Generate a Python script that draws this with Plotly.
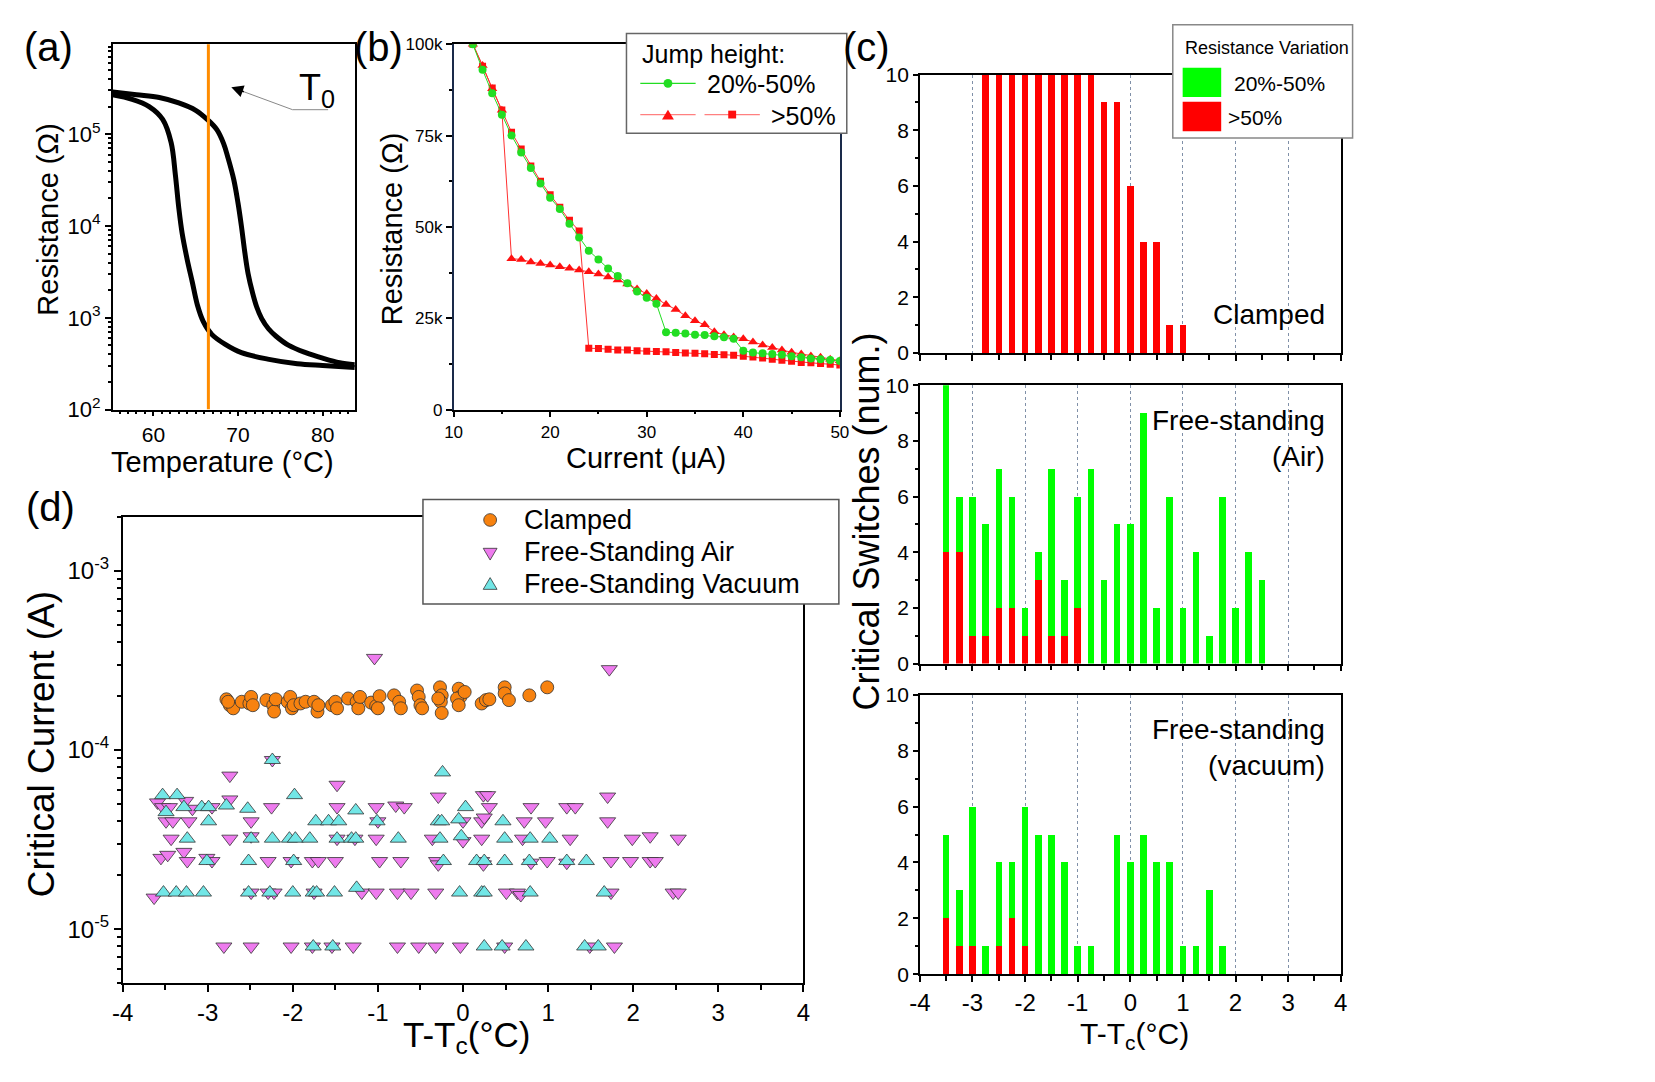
import plotly.graph_objects as go

W, H = 1655, 1082
ARIAL = "Liberation Sans, Arial, Helvetica, sans-serif"


def px(x):
    return x / W


def py(y):
    return 1 - y / H


# ---------------- (a) R(T) hysteresis ----------------
temp_heating = [55.2, 58.0, 60.7, 63.0, 65.0, 66.5, 67.5, 68.3, 68.8, 69.5, 70.0, 70.4,
                70.8, 71.2, 71.7, 72.2, 72.8, 73.6, 74.5, 76.0, 78.0, 80.0, 82.0, 83.8]
res_heating = [2.88e5, 2.69e5, 2.51e5, 2.19e5, 1.82e5, 1.41e5, 1.12e5, 7.9e4, 5.6e4, 3.2e4,
               1.78e4, 1.0e4, 5.2e3, 3.0e3, 1.9e3, 1.32e3, 980, 760, 630, 500, 417, 363, 324, 309]
temp_cooling = [55.2, 57.5, 59.5, 61.1, 62.1, 62.6, 63.0, 63.4, 64.0, 64.6, 65.2, 65.9,
                66.9, 68.5, 70.4, 73.5, 77.0, 80.0, 83.8]
res_cooling = [2.69e5, 2.4e5, 2.0e5, 1.45e5, 8.1e4, 3.6e4, 1.58e4, 8.3e3, 4.3e3, 2.45e3,
               1.38e3, 910, 660, 513, 417, 355, 316, 302, 288]
T0 = 66.5
a_xticks = [60, 70, 80]
a_yticks = [1e2, 1e3, 1e4, 1e5]
a_yticktext = ["10<sup>2</sup>", "10<sup>3</sup>", "10<sup>4</sup>", "10<sup>5</sup>"]

# ---------------- (b) R(I) jumps ----------------
current_uA = [12, 13, 14, 15, 16, 17, 18, 19, 20, 21, 22, 23, 24, 25, 26, 27, 28, 29, 30,
              31, 32, 33, 34, 35, 36, 37, 38, 39, 40, 41, 42, 43, 44, 45, 46, 47, 48, 49, 50]
res_20_50_k = [100, 93.0, 86.6, 80.7, 75.0, 70.4, 66.1, 61.9, 58.0, 54.9, 50.9, 47.1, 43.5,
               41.1, 38.6, 36.6, 34.6, 32.3, 30.6, 29.0, 21.2, 21.0, 20.8, 20.5, 20.4, 20.1,
               19.8, 19.4, 16.1, 15.6, 15.4, 15.2, 15.0, 14.6, 14.3, 14.0, 13.8, 13.6, 13.3]
res_gt50_tri_k = [100, 94.2, 87.8, 81.9, 41.3, 41.1, 40.4, 40.0, 39.6, 39.1, 38.7, 38.2, 37.7,
                  37.1, 36.3, 35.5, 34.4, 33.0, 31.8, 30.4, 28.8, 27.4, 25.7, 24.3, 23.2, 21.3,
                  20.5, 19.9, 19.4, 18.5, 17.7, 17.0, 16.3, 15.7, 15.2, 14.7, 14.3, 13.8, 13.4]
res_gt50_sq_k = [100, 94.0, 88.0, 82.0, 75.9, 71.3, 66.7, 62.5, 58.8, 55.4, 51.8, 48.9, 16.8,
                 16.7, 16.5, 16.3, 16.3, 16.1, 16.0, 15.9, 15.8, 15.6, 15.5, 15.4, 15.3, 15.1,
                 15.0, 14.9, 14.6, 14.4, 14.1, 13.8, 13.5, 13.2, 12.9, 12.8, 12.6, 12.4, 12.2]
b_xticks = [10, 20, 30, 40, 50]
b_yticks = [0, 25000, 50000, 75000, 100000]
b_yticktext = ["0", "25k", "50k", "75k", "100k"]

# ---------------- (c) histograms ----------------
clamped_dT = [-2.75, -2.5, -2.25, -2.0, -1.75, -1.5, -1.25, -1.0, -0.75, -0.5, -0.25, 0.0,
              0.25, 0.5, 0.75, 1.0]
clamped_red = [10, 10, 10, 10, 10, 10, 10, 10, 10, 9, 9, 6, 4, 4, 1, 1]
clamped_green = [0, 0, 0, 0, 0, 0, 0, 0, 0, 0, 0, 0, 0, 0, 0, 0]

air_dT = [-3.5, -3.25, -3.0, -2.75, -2.5, -2.25, -2.0, -1.75, -1.5, -1.25, -1.0, -0.75, -0.5,
          -0.25, 0.0, 0.25, 0.5, 0.75, 1.0, 1.25, 1.5, 1.75, 2.0, 2.25, 2.5]
air_red = [4, 4, 1, 1, 2, 2, 1, 3, 1, 1, 2, 0, 0, 0, 0, 0, 0, 0, 0, 0, 0, 0, 0, 0, 0]
air_green = [6, 2, 5, 4, 5, 4, 1, 1, 6, 2, 4, 7, 3, 5, 5, 9, 2, 6, 2, 4, 1, 6, 2, 4, 3]

vac_dT = [-3.5, -3.25, -3.0, -2.75, -2.5, -2.25, -2.0, -1.75, -1.5, -1.25, -1.0, -0.75, -0.5,
          -0.25, 0.0, 0.25, 0.5, 0.75, 1.0, 1.25, 1.5, 1.75]
vac_red = [2, 1, 1, 0, 1, 2, 1, 0, 0, 0, 0, 0, 0, 0, 0, 0, 0, 0, 0, 0, 0, 0]
vac_green = [3, 2, 5, 1, 3, 2, 5, 5, 5, 4, 1, 1, 0, 5, 4, 5, 4, 4, 1, 1, 3, 1]

dT_ticks = [-4, -3, -2, -1, 0, 1, 2, 3, 4]
dT_ticktext = ["-4", "-3", "-2", "-1", "0", "1", "2", "3", "4"]
c_yticks = [0, 2, 4, 6, 8, 10]

# ---------------- (d) critical current ----------------
clamped_x = [-2.78, -2.74, -2.70, -2.76, -2.60, -2.51, -2.49, -2.47, -2.31, -2.23, -2.22, -2.20,
             -2.06, -2.03, -2.01, -1.99, -1.91, -1.85, -1.75, -1.71, -1.70, -1.54, -1.50, -1.48,
             -1.35, -1.25, -1.23, -1.21, -1.08, -1.02, -0.98, -1.00, -0.81, -0.75, -0.73,
             -0.54, -0.52, -0.50, -0.48, -0.27, -0.25, -0.26, -0.25, -0.29, -0.05, -0.03,
             -0.07, -0.05, 0.02, 0.22, 0.27, 0.31, 0.49, 0.49, 0.54, 0.78, 0.99]
clamped_y = [1.92e-4, 1.78e-4, 1.71e-4, 1.86e-4, 1.86e-4, 1.82e-4, 1.98e-4, 1.78e-4, 1.90e-4,
             1.78e-4, 1.64e-4, 1.92e-4, 1.86e-4, 1.98e-4, 1.71e-4, 1.78e-4, 1.82e-4, 1.86e-4,
             1.86e-4, 1.64e-4, 1.78e-4, 1.78e-4, 1.86e-4, 1.71e-4, 1.94e-4, 1.86e-4, 1.71e-4,
             1.98e-4, 1.84e-4, 1.76e-4, 2.00e-4, 1.71e-4, 2.02e-4, 1.86e-4, 1.71e-4, 2.15e-4,
             1.98e-4, 1.78e-4, 1.71e-4, 2.24e-4, 2.02e-4, 1.86e-4, 1.61e-4, 1.94e-4, 2.20e-4,
             1.98e-4, 1.94e-4, 1.78e-4, 2.11e-4, 1.82e-4, 1.90e-4, 1.92e-4, 2.24e-4, 2.07e-4,
             1.90e-4, 2.02e-4, 2.24e-4]

air_x = [-1.04, 1.72, -2.24, -2.74, -1.48,
         -3.59, -3.53, -3.45, -3.26, -3.18, -2.95, -2.74, -2.25, -1.48, -1.02, -0.79, -0.69,
         -0.29, 0.24, 0.29, 1.70, 0.31, 0.80, 1.22, 1.32,
         -3.49, -3.41, -3.22, -2.49, -1.00, 0.00, 0.22, 0.25, 0.72, 0.97, 1.70,
         -3.43, -2.74, -2.49, -1.48, -1.27, -1.02, -0.36, 0.00, 0.22, 0.70, 1.26, 1.99, 2.20, 2.53,
         -3.55, -3.47, -3.28, -3.24, -3.01, -2.95, -2.29, -2.02, -1.77, -1.70, -1.50, -0.98,
         -0.73, -0.31, -0.29, 0.22, 0.24, 0.80, 0.99, 1.22, 1.74, 1.97, 2.20, 2.26,
         -3.63, -2.49, -2.29, -2.22, -1.75, -1.19, -1.02, -0.77, -0.61, -0.32, 0.51, 0.64,
         0.68, 1.74, 2.47, 2.53,
         -2.81, -2.49, -2.02, -1.77, -1.54, -1.29, -0.77, -0.52, -0.32, -0.03, 0.49, 1.49, 1.78]
air_y = [3.27e-4, 2.83e-4, 8.8e-5, 7.2e-5, 6.4e-5,
         5.1e-5, 4.8e-5, 4.8e-5, 5.2e-5, 4.7e-5, 4.8e-5, 5.3e-5, 4.8e-5, 4.8e-5, 4.8e-5, 4.9e-5, 4.8e-5,
         5.5e-5, 5.6e-5, 5.6e-5, 5.5e-5, 4.8e-5, 4.8e-5, 4.8e-5, 4.8e-5,
         4.0e-5, 4.0e-5, 4.0e-5, 4.0e-5, 4.0e-5, 4.0e-5, 4.0e-5, 4.2e-5, 4.0e-5, 4.0e-5, 4.0e-5,
         3.2e-5, 3.2e-5, 3.3e-5, 3.2e-5, 3.2e-5, 3.2e-5, 3.2e-5, 3.1e-5, 3.2e-5, 3.2e-5, 3.2e-5,
         3.2e-5, 3.3e-5, 3.2e-5,
         2.5e-5, 2.6e-5, 2.7e-5, 2.4e-5, 2.5e-5, 2.4e-5, 2.4e-5, 2.4e-5, 2.4e-5, 2.4e-5, 2.4e-5,
         2.4e-5, 2.4e-5, 2.4e-5, 2.3e-5, 2.4e-5, 2.3e-5, 2.35e-5, 2.4e-5, 2.35e-5, 2.4e-5,
         2.4e-5, 2.4e-5, 2.4e-5,
         1.5e-5, 1.6e-5, 1.6e-5, 1.6e-5, 1.6e-5, 1.6e-5, 1.6e-5, 1.6e-5, 1.6e-5, 1.6e-5, 1.6e-5,
         1.6e-5, 1.55e-5, 1.6e-5, 1.6e-5, 1.6e-5,
         8e-6, 8e-6, 8e-6, 8e-6, 8e-6, 8e-6, 8e-6, 8e-6, 8e-6, 8e-6, 8e-6, 8e-6, 8e-6]

vac_x = [-2.24, -0.24,
         -3.53, -3.36, -1.98,
         -3.28, -3.07, -2.99, -2.78, -2.53, -1.26, 0.03, -3.49,
         -2.99, -1.73, -1.58, -1.46, -1.01, -0.29, -0.25, -0.05, 0.47,
         -3.24, -2.49, -2.24, -2.04, -1.97, -1.80, -1.48, -1.31, -1.26, -0.76, -0.27, -0.02,
         0.49, 0.79, 1.02,
         -3.01, -2.52, -1.99, -0.23, 0.16, 0.25, 0.49, 0.78, 1.22, 1.45,
         -3.52, -3.37, -3.25, -3.05, -2.52, -2.27, -2.00, -1.76, -1.72, -1.51, -1.25, -0.04,
         0.22, 0.25, 0.79, 1.66,
         -1.76, -1.53, 0.25, 0.46, 0.74, 1.43, 1.59]
vac_y = [8.8e-5, 7.5e-5,
         5.6e-5, 5.6e-5, 5.6e-5,
         4.8e-5, 4.8e-5, 4.8e-5, 4.9e-5, 4.7e-5, 4.6e-5, 4.8e-5, 4.5e-5,
         4.0e-5, 4.0e-5, 4.0e-5, 4.0e-5, 4.0e-5, 4.0e-5, 4.0e-5, 4.1e-5, 4.0e-5,
         3.2e-5, 3.2e-5, 3.2e-5, 3.2e-5, 3.2e-5, 3.2e-5, 3.2e-5, 3.2e-5, 3.2e-5, 3.2e-5,
         3.2e-5, 3.3e-5, 3.2e-5, 3.2e-5, 3.2e-5,
         2.4e-5, 2.4e-5, 2.4e-5, 2.4e-5, 2.4e-5, 2.4e-5, 2.4e-5, 2.4e-5, 2.4e-5, 2.4e-5,
         1.6e-5, 1.6e-5, 1.6e-5, 1.6e-5, 1.6e-5, 1.6e-5, 1.6e-5, 1.6e-5, 1.6e-5, 1.6e-5,
         1.7e-5, 1.6e-5, 1.6e-5, 1.6e-5, 1.6e-5, 1.6e-5,
         8e-6, 8e-6, 8e-6, 8e-6, 8e-6, 8e-6, 8e-6]
d_yticks = [1e-5, 1e-4, 1e-3]
d_yticktext = ["10<sup>-5</sup>", "10<sup>-4</sup>", "10<sup>-3</sup>"]

# colours
GREEN_BAR = "#00FF00"
RED_BAR = "#FF0000"
GREEN_PT = "#22DD22"
RED_PT = "#FF1010"
ORANGE = "#F7820F"
PINK = "#EE7BEE"
CYAN = "#72E6E6"

fig = go.Figure()

# (a)
for tx, rx in [(temp_heating, res_heating), (temp_cooling, res_cooling)]:
    fig.add_trace(go.Scatter(x=tx, y=rx, mode="lines", line=dict(color="black", width=5, shape="spline"),
                             xaxis="x", yaxis="y", showlegend=False))
fig.add_trace(go.Scatter(x=[T0, T0], y=[1e2, 1e6], mode="lines", line=dict(color="#FF8C00", width=3),
                         xaxis="x", yaxis="y", showlegend=False))

# (b)
fig.add_trace(go.Scatter(x=current_uA, y=[v * 1000 for v in res_gt50_tri_k], mode="lines+markers",
                         line=dict(color="#FF3030", width=1), marker=dict(symbol="triangle-up", size=9, color=RED_PT),
                         xaxis="x2", yaxis="y2", showlegend=False))
fig.add_trace(go.Scatter(x=current_uA, y=[v * 1000 for v in res_gt50_sq_k], mode="lines+markers",
                         line=dict(color="#FF3030", width=1), marker=dict(symbol="square", size=7, color=RED_PT),
                         xaxis="x2", yaxis="y2", showlegend=False))
fig.add_trace(go.Scatter(x=current_uA, y=[v * 1000 for v in res_20_50_k], mode="lines+markers",
                         line=dict(color=GREEN_PT, width=1), marker=dict(symbol="circle", size=8, color=GREEN_PT),
                         xaxis="x2", yaxis="y2", showlegend=False))

# (c)
for xs, reds, greens, xa, ya in [(clamped_dT, clamped_red, clamped_green, "x3", "y3"),
                                 (air_dT, air_red, air_green, "x4", "y4"),
                                 (vac_dT, vac_red, vac_green, "x5", "y5")]:
    fig.add_trace(go.Bar(x=xs, y=reds, width=0.125, marker=dict(color=RED_BAR, line=dict(width=0)),
                         xaxis=xa, yaxis=ya, showlegend=False))
    fig.add_trace(go.Bar(x=xs, y=greens, width=0.125, marker=dict(color=GREEN_BAR, line=dict(width=0)),
                         xaxis=xa, yaxis=ya, showlegend=False))

# (d)
fig.add_trace(go.Scatter(x=clamped_x, y=clamped_y, mode="markers",
                         marker=dict(symbol="circle", size=13, color=ORANGE, line=dict(color="#333", width=0.8)),
                         xaxis="x6", yaxis="y6", showlegend=False))
fig.add_trace(go.Scatter(x=air_x, y=air_y, mode="markers",
                         marker=dict(symbol="triangle-down", size=14, color=PINK, line=dict(color="#333", width=0.8)),
                         xaxis="x6", yaxis="y6", showlegend=False))
fig.add_trace(go.Scatter(x=vac_x, y=vac_y, mode="markers",
                         marker=dict(symbol="triangle-up", size=14, color=CYAN, line=dict(color="#333", width=0.8)),
                         xaxis="x6", yaxis="y6", showlegend=False))


# ---------------- axes ----------------
def base_axis(size=22, **kw):
    d = dict(showline=True, linecolor="black", linewidth=1.5, mirror=True, ticks="outside",
             ticklen=7, tickwidth=1.5, tickcolor="black", showgrid=False, zeroline=False,
             tickfont=dict(family=ARIAL, size=size, color="black"), fixedrange=True)
    d.update(kw)
    return d


log_minor_a = [m * 10 ** e for e in range(2, 6) for m in range(2, 10)]
log_minor_d = [m * 10 ** e for e in range(-6, -2) for m in range(2, 10)]

layout_axes = dict(
    xaxis=base_axis(21, domain=[px(103), px(348)], range=[55.2, 83.8], anchor="y", tickmode="array",
                    tickvals=a_xticks, ticklen=5,
                    minor=dict(ticks="outside", dtick=1, ticklen=3, tickcolor="black")),
    yaxis=base_axis(22, domain=[py(407), py(33)], type="log", range=[2, 5.98], anchor="x",
                    tickmode="array", tickvals=a_yticks, ticktext=a_yticktext, ticklen=6,
                    minor=dict(ticks="outside", tickmode="array", tickvals=log_minor_a, ticklen=3, tickcolor="black")),
    xaxis2=base_axis(17, domain=[px(448), px(839)], range=[10, 50], anchor="y2", tickmode="array",
                     tickvals=b_xticks, ticklen=6,
                     minor=dict(ticks="outside", dtick=5, ticklen=3, tickcolor="black")),
    yaxis2=base_axis(17, domain=[py(407), py(33)], range=[0, 100000], anchor="x2", tickmode="array",
                     tickvals=b_yticks, ticktext=b_yticktext, linecolor="#1a2a4a", ticklen=6,
                     minor=dict(ticks="outside", dtick=12500, ticklen=3, tickcolor="black")),
)
c_rows = [("x3", "y3", 349, 64, False), ("x4", "y4", 667, 382, False), ("x5", "y5", 985, 699, True)]
for xa, ya, yb, yt, lab in c_rows:
    layout_axes["xaxis" + xa[1:]] = base_axis(
        24, domain=[px(920), px(1346)], range=[-4, 4], anchor=ya, tickmode="array",
        tickvals=dT_ticks, ticktext=dT_ticktext, showticklabels=lab, showgrid=True,
        gridcolor="#8090A8", griddash="dot", gridwidth=1, ticklen=6,
        minor=dict(ticks="outside", dtick=0.5, ticklen=5, tickcolor="black"))
    layout_axes["yaxis" + ya[1:]] = base_axis(
        21, domain=[py(yb), py(yt)], range=[0, 10], anchor=xa, tickmode="array", tickvals=c_yticks,
        ticklen=5, minor=dict(ticks="outside", dtick=1, ticklen=3, tickcolor="black"))
layout_axes["xaxis6"] = base_axis(24, domain=[px(113), px(802)], range=[-4, 4], anchor="y6", tickmode="array",
                                  tickvals=dT_ticks, ticktext=dT_ticktext, ticklen=7,
                                  minor=dict(ticks="outside", dtick=0.5, ticklen=5, tickcolor="black"))
layout_axes["yaxis6"] = base_axis(24, domain=[py(994), py(517)], type="log", range=[-5.301, -2.699], anchor="x6",
                                  tickmode="array", tickvals=d_yticks, ticktext=d_yticktext, ticklen=7,
                                  minor=dict(ticks="outside", tickmode="array", tickvals=log_minor_d, ticklen=4,
                                             tickcolor="black"))

# ---------------- legends / decorations (shapes) ----------------
shapes = []


def rect(x0, y0, x1, y1, fill="white", lc="#555", lw=1.5):
    shapes.append(dict(type="rect", xref="paper", yref="paper", x0=px(x0), x1=px(x1), y0=py(y1), y1=py(y0),
                       fillcolor=fill, line=dict(color=lc, width=lw), layer="above"))


def seg(x0, y0, x1, y1, color, width=1.2):
    shapes.append(dict(type="line", xref="paper", yref="paper", x0=px(x0), x1=px(x1), y0=py(y0), y1=py(y1),
                       line=dict(color=color, width=width), layer="above"))


def poly(pts, fill, lc="#333", lw=0.8):
    path = "M " + " L ".join(f"{px(x)},{py(y)}" for x, y in pts) + " Z"
    shapes.append(dict(type="path", xref="paper", yref="paper", path=path, fillcolor=fill,
                       line=dict(color=lc, width=lw), layer="above"))


def circ(cx, cy, d, fill, lc="#333", lw=0.8):
    shapes.append(dict(type="circle", xref="paper", yref="paper", x0=px(cx - d / 2), x1=px(cx + d / 2),
                       y0=py(cy + d / 2), y1=py(cy - d / 2), fillcolor=fill, line=dict(color=lc, width=lw),
                       layer="above"))


# (a) T0 pointer
shapes.append(dict(type="path", xref="paper", yref="paper",
                   path=f"M {px(321)},{py(100)} L {px(285)},{py(100)} L {px(234)},{py(81)}",
                   line=dict(color="#888", width=1), layer="above"))

# (b) legend
rect(623, 22, 846, 124, lc="#666")
seg(637, 73, 693, 73, GREEN_PT)
circ(665, 73, 9, GREEN_PT, lc=GREEN_PT, lw=0)
seg(637, 105, 693, 105, "#FF8080")
seg(702, 105, 758, 105, "#FF8080")
poly([(659, 110), (671, 110), (665, 100)], RED_PT, lc=RED_PT, lw=0)
rect(726, 101, 734, 109, fill=RED_PT, lc=RED_PT, lw=0)

# (c) legend
rect(1176, 13, 1358, 129, lc="#888")
rect(1186, 57, 1225, 87, fill=GREEN_BAR, lc=GREEN_BAR, lw=0)
rect(1186, 92, 1225, 122, fill=RED_BAR, lc=RED_BAR, lw=0)

# (d) legend
rect(417, 499, 838, 606, lc="#555")
circ(485, 520, 13, ORANGE)
poly([(478, 549), (492, 549), (485, 561)], PINK)
poly([(478, 591), (492, 591), (485, 579)], CYAN)

# ---------------- annotations ----------------
ann = []


def text(x, y, s, size, xanchor="center", yanchor="middle", angle=0, align="center"):
    ann.append(dict(x=px(x), y=py(y), xref="paper", yref="paper", text=s, showarrow=False,
                    font=dict(family=ARIAL, size=size, color="black"), xanchor=xanchor, yanchor=yanchor,
                    textangle=angle, align=align))


# panel letters
text(38, 36, "(a)", 40)
text(372, 36, "(b)", 40)
text(866, 36, "(c)", 40)
text(40, 507, "(d)", 40)

# axis titles
text(214, 461, "Temperature (°C)", 29)
text(38, 212, "Resistance (Ω)", 29, angle=-90)
text(643, 457, "Current (μA)", 29)
text(386, 222, "Resistance (Ω)", 29, angle=-90)
text(866, 522, "Critical Switches (num.)", 36, angle=-90)
text(1137, 1048, "T-T<sub>c</sub>(°C)", 30)
text(31, 750, "Critical Current (A)", 37, angle=-90)
text(461, 1049, "T-T<sub>c</sub>(°C)", 35)

# T0 label and arrowhead
text(289, 80, "T<sub>0</sub>", 36, xanchor="left")
ann.append(dict(x=px(223), y=py(77), xref="paper", yref="paper", ax=14, ay=5, axref="pixel", ayref="pixel",
                text="", showarrow=True, arrowhead=2, arrowsize=1.6, arrowwidth=1.5, arrowcolor="black"))

# (b) legend text
text(637, 43, "Jump height:", 25, xanchor="left")
text(702, 74, "20%-50%", 25, xanchor="left")
text(767, 106, ">50%", 25, xanchor="left")

# (c) legend text
text(1186, 37, "Resistance Variation", 18, xanchor="left")
text(1236, 73, "20%-50%", 21, xanchor="left")
text(1230, 108, ">50%", 21, xanchor="left")

# (c) panel labels
text(1332, 310, "Clamped", 28, xanchor="right")
text(1332, 437, "Free-standing<br>(Air)", 28, xanchor="right", align="right")
text(1332, 753, "Free-standing<br>(vacuum)", 28, xanchor="right", align="right")

# (d) legend text
text(517, 520, "Clamped", 27, xanchor="left")
text(517, 553, "Free-Standing Air", 27, xanchor="left")
text(517, 586, "Free-Standing Vacuum", 27, xanchor="left")

fig.update_layout(
    width=W, height=H, margin=dict(l=0, r=0, t=0, b=0),
    paper_bgcolor="white", plot_bgcolor="white",
    barmode="stack", showlegend=False,
    shapes=shapes, annotations=ann,
    font=dict(family=ARIAL, color="black"),
    **layout_axes,
)

fig.write_html("out.html", config={"displayModeBar": False})
